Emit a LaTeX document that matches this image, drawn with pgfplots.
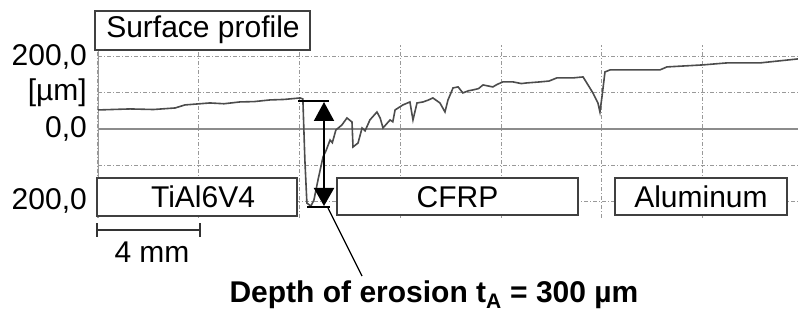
\documentclass[border=0pt]{standalone}
\usepackage{fontspec}
\setmainfont{Liberation Sans}
\usepackage{pgfplots}
\pgfplotsset{compat=1.18}
\usetikzlibrary{arrows.meta}
\pgfplotstableread{
x y
0 52.8
1.27 55.6
2.2 54
3.06 58.3
3.45 66.7
4.44 72.2
5.0 70
5.63 75
6.2 76
6.83 80.6
7.4 82
8.02 86.1
8.13 83.3
8.21 -86
8.29 -205.6
8.45 -213.9
8.57 -197
8.73 -141.7
8.93 -77.8
9.05 -60
9.21 -30.6
9.30 -38
9.44 -2.8
9.68 11.1
9.88 30.6
10.08 19.4
10.12 -50
10.32 -38.9
10.48 2.8
10.60 -5
10.79 25
11.07 47.2
11.20 30
11.31 2.8
11.59 25
11.70 20
11.79 52.8
12.10 66.7
12.38 75
12.50 25
12.66 72.2
12.90 75
13.10 80
13.29 86.1
13.57 72.2
13.77 47.2
13.89 80.6
14.09 113.9
14.29 116.7
14.48 100
14.70 106
14.88 108.3
15.10 112
15.28 122.2
15.67 116.7
15.85 124
16.07 130.6
16.47 130.6
16.80 126
17.02 127.8
17.54 130.6
17.90 133
18.21 141.7
18.85 141.7
19.25 144.4
19.52 113.9
19.64 100
19.84 72.2
19.92 47.2
20.00 88.9
20.12 158.3
20.32 163.9
22.30 163.9
22.58 172.2
24.01 177.8
24.96 183.3
26.27 183.3
27.78 194.4
}\profile
\begin{document}
\begin{tikzpicture}[x=1pt,y=1pt]
\useasboundingbox (0,0) rectangle (798,316);
\begin{axis}[at={(98pt,98pt)}, anchor=south west, scale only axis,
  width=700pt, height=173pt,
  xmin=0, xmax=27.78, ymin=-247, ymax=233,
  axis line style={draw=none}, tick style={draw=none},
  xtick={0,4,...,28}, xticklabels={},
  ytick={-200,-100,0,100,200},
  yticklabels={{200,0},{},{0,0},{[µm]},{200,0}},
  yticklabel style={font=\fontsize{30}{36}\selectfont, anchor=east, inner sep=0pt, xshift=-11pt},
  grid=major,
  major grid style={black!40, line width=1pt, dash pattern=on 4pt off 2pt on 1pt off 2pt},
  clip=true]
\draw[black!45, line width=1.8pt] (0,0) -- (27.78,0);
\draw[black!40, line width=1.5pt] (0,-247) -- (0,215);
\addplot[black!70, line width=1.6pt] table[x=x,y=y] {\profile};
\end{axis}
% boxes
\draw[line width=1.5pt, black!75, fill=white] (95,266) rectangle (310,305);
\node[font=\fontsize{30}{36}\selectfont] at (203,286) {Surface profile};
\draw[line width=1.5pt, black!75, fill=white] (97,100) rectangle (297,138);
\node[font=\fontsize{30}{36}\selectfont] at (203,119) {TiAl6V4};
\draw[line width=1.5pt, black!75, fill=white] (337,101) rectangle (578,138);
\node[font=\fontsize{30}{36}\selectfont] at (457.5,119) {CFRP};
\draw[line width=1.5pt, black!75, fill=white] (615,101) rectangle (787,138);
\node[font=\fontsize{30}{36}\selectfont] at (701,119) {Aluminum};
% erosion arrow
\draw[line width=2pt] (298,215) -- (329,215);
\draw[line width=2pt] (307,109) -- (330,109);
\draw[line width=2pt, {Triangle[length=19pt,width=20pt]}-{Triangle[length=18pt,width=20pt]}] (324,214) -- (324,110);
\draw[line width=1.2pt] (328,108) -- (362,40);
\node[font=\bfseries\fontsize{30}{36}\selectfont] at (434,21) {Depth of erosion t\textsubscript{A} = 300 µm};
% scale bar
\draw[line width=2pt, black!80] (97,86) -- (200,86);
\draw[line width=2pt, black!80] (97,79) -- (97,93);
\draw[line width=2pt, black!80] (200,79) -- (200,93);
\node[font=\fontsize{30}{36}\selectfont] at (152,64) {4 mm};
\end{tikzpicture}
\end{document}
